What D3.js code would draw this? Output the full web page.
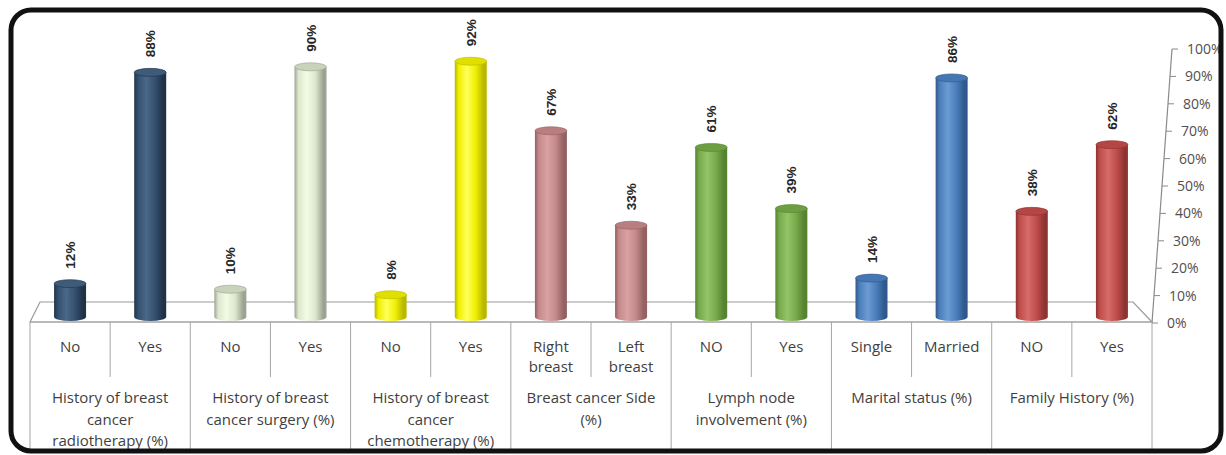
<!DOCTYPE html>
<html>
<head>
<meta charset="utf-8">
<script src="https://cdn.jsdelivr.net/npm/d3@7"></script>
<style>
  html, body { margin: 0; padding: 0; background: #fff; }
  svg { display: block; }
  .cat { font-family: "Open Sans", sans-serif; font-size: 15px; fill: #3f3f3f; }
  .tick-label { font-family: "Open Sans", sans-serif; font-size: 14px; fill: #505050; }
  .val { font-family: "Liberation Sans", Arial, sans-serif; font-size: 13.5px; font-weight: bold; fill: #262626; }
</style>
</head>
<body>
<svg id="chart" width="1226" height="455"></svg>
<script>
// data
const groupNames = [
    ["History of breast", "cancer", "radiotherapy (%)"],
    ["History of breast", "cancer surgery (%)"],
    ["History of breast", "cancer", "chemotherapy (%)"],
    ["Breast cancer Side", "(%)"],
    ["Lymph node", "involvement (%)"],
    ["Marital status (%)"],
    ["Family History (%)"]
];
const subLabels = [
    ["No"], ["Yes"], ["No"], ["Yes"], ["No"], ["Yes"],
    ["Right", "breast"], ["Left", "breast"], ["NO"], ["Yes"],
    ["Single"], ["Married"], ["NO"], ["Yes"]
];
const values = [12, 88, 10, 90, 8, 92, 67, 33, 61, 39, 14, 86, 38, 62];
const groupColors = [
    { base: "#34506e", dark: "#1f3348", light: "#4b6888", top: "#3e5b7a" },
    { base: "#dde7cd", dark: "#9da392", light: "#f3fae6", top: "#c9d2bb" },
    { base: "#efef00", dark: "#b8b800", light: "#ffff59", top: "#e0e000" },
    { base: "#c4898b", dark: "#946062", light: "#daa2a4", top: "#b97e80" },
    { base: "#78aa4b", dark: "#55832f", light: "#93c466", top: "#6d9f42" },
    { base: "#4a7ebb", dark: "#30588c", light: "#6c9bd2", top: "#4677b2" },
    { base: "#bf4d4b", dark: "#8d3331", light: "#d66c69", top: "#b44644" }
];
const yTicks = [0, 10, 20, 30, 40, 50, 60, 70, 80, 90, 100];

const svg = d3.select("#chart");
const defs = svg.append("defs");

const left = 30, right = 1152;
const x = d3.scaleBand().domain(d3.range(values.length)).range([left, right]);
const bw = x.bandwidth();
const y = d3.scaleLinear().domain([0, 100]).range([317, 39]);
const yAxis = d3.scaleLinear().domain([0, 100]).range([323, 49]);
const xAxis = d3.scaleLinear().domain([0, 100]).range([right, 1172]);

// cylinder gradients
groupColors.forEach((c, i) => {
    const g = defs.append("linearGradient").attr("id", "cyl" + i).attr("x1", 0).attr("x2", 1).attr("y1", 0).attr("y2", 0);
    [[0, c.dark], [0.12, c.base], [0.38, c.light], [0.65, c.base], [0.9, c.dark], [1, c.dark]].forEach(s =>
        g.append("stop").attr("offset", s[0]).attr("stop-color", s[1]));
});

// floor
const floorBack = 302, floorFront = 322;
svg.append("path")
    .attr("d", `M${left},${floorFront} L40,${floorBack} L1133,${floorBack} L${right},${floorFront} Z`)
    .attr("fill", "#fff").attr("stroke", "#9a9a9a").attr("stroke-width", 1.2);

// axis (slanted)
svg.append("line").attr("x1", xAxis(0)).attr("y1", yAxis(0)).attr("x2", xAxis(100)).attr("y2", yAxis(100))
    .attr("stroke", "#8a8a8a").attr("stroke-width", 1.2);
const ax = svg.append("g").selectAll("g").data(yTicks).join("g");
ax.append("line").attr("x1", d => xAxis(d)).attr("x2", d => xAxis(d) + 6)
    .attr("y1", d => yAxis(d)).attr("y2", d => yAxis(d)).attr("stroke", "#8a8a8a");
ax.append("text").attr("class", "tick-label").attr("x", d => xAxis(d) + 15).attr("y", d => yAxis(d)).attr("dy", "0.35em")
    .text(d => d + "%");

// bars as cylinders
const ry = 4, rw = 16;
const bars = svg.append("g").selectAll("g").data(values).join("g");
bars.each(function(v, i) {
    const g = d3.select(this);
    const gi = Math.floor(i / 2);
    const cx = x(i) + bw / 2;
    const c = groupColors[gi];
    g.append("path")
        .attr("d", `M${cx - rw},${y(v)} L${cx - rw},${y(0)} A${rw},${ry} 0 0 0 ${cx + rw},${y(0)} L${cx + rw},${y(v)} Z`)
        .attr("fill", `url(#cyl${gi})`);
    g.append("ellipse").attr("cx", cx).attr("cy", y(v)).attr("rx", rw).attr("ry", ry)
        .attr("fill", c.top).attr("stroke", c.dark).attr("stroke-width", 0.6);
    g.append("text").attr("class", "val")
        .attr("transform", `translate(${cx + 5},${y(v) - 15}) rotate(-90)`)
        .text(v + "%");
});

// category table
const tableTop = floorFront, tableBottom = 452;
const lineColor = "#a6a6a6";
svg.append("line").attr("x1", left).attr("x2", right).attr("y1", tableTop).attr("y2", tableTop).attr("stroke", lineColor);
d3.range(values.length + 1).forEach(i => {
    const xx = i === values.length ? right : x(i);
    const major = i % 2 === 0;
    svg.append("line").attr("x1", xx).attr("x2", xx).attr("y1", tableTop)
        .attr("y2", major ? tableBottom : 377).attr("stroke", lineColor);
});

svg.append("g").selectAll("text").data(subLabels).join("text")
    .attr("class", "cat").attr("text-anchor", "middle")
    .attr("x", (d, i) => x(i) + bw / 2).attr("y", 352)
    .each(function(d) {
        d3.select(this).selectAll("tspan").data(d).join("tspan")
            .attr("x", d3.select(this).attr("x")).attr("dy", (t, k) => k === 0 ? 0 : 20).text(t => t);
    });

svg.append("g").selectAll("text").data(groupNames).join("text")
    .attr("class", "cat").attr("text-anchor", "middle")
    .attr("x", (d, i) => x(i * 2) + bw).attr("y", 403)
    .each(function(d) {
        d3.select(this).selectAll("tspan").data(d).join("tspan")
            .attr("x", d3.select(this).attr("x")).attr("dy", (t, k) => k === 0 ? 0 : 21.5).text(t => t);
    });

// outer frame
svg.append("rect").attr("x", 11).attr("y", 10).attr("width", 1210).attr("height", 441)
    .attr("rx", 20).attr("fill", "none").attr("stroke", "#111").attr("stroke-width", 5);
</script>
</body>
</html>
